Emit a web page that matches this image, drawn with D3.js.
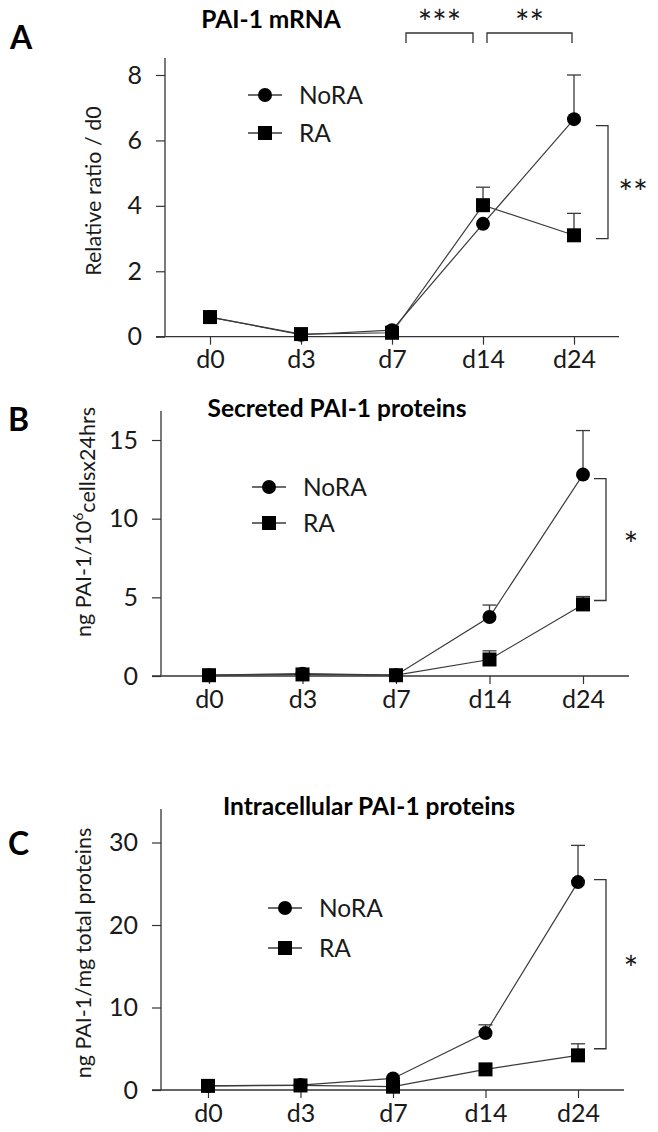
<!DOCTYPE html>
<html>
<head>
<meta charset="utf-8">
<script src="https://cdn.jsdelivr.net/npm/d3@7"></script>
<style>
  html, body { margin: 0; padding: 0; background: #fff; }
  svg { display: block; }
  text { font-family: Lato, "Open Sans", sans-serif; fill: #1a1a1a; }
</style>
</head>
<body>
<svg id="chart" width="658" height="1132"></svg>
<script>
// ---------------- data ----------------
const categories = ["d0", "d3", "d7", "d14", "d24"];
const seriesNames = ["NoRA", "RA"];

// Panel A: PAI-1 mRNA (relative ratio / d0)
const aNoRA    = [0.6, 0.06, 0.2, 3.45, 6.65];
const aNoRAErr = [0, 0, 0, 0, 1.35];
const aRA      = [0.6, 0.08, 0.12, 4.02, 3.1];
const aRAErr   = [0, 0, 0, 0.55, 0.67];
const aTicks   = [0, 2, 4, 6, 8];

// Panel B: secreted PAI-1 proteins
const bNoRA    = [0.05, 0.15, 0.05, 3.75, 12.8];
const bNoRAErr = [0, 0, 0, 0.76, 2.8];
const bRA      = [0.05, 0.1, 0.05, 1.05, 4.55];
const bRAErr   = [0, 0, 0, 0.55, 0.5];
const bTicks   = [0, 5, 10, 15];

// Panel C: intracellular PAI-1 proteins
const cNoRA    = [0.5, 0.6, 1.4, 6.9, 25.2];
const cNoRAErr = [0, 0, 0, 1.0, 4.45];
const cRA      = [0.5, 0.55, 0.4, 2.5, 4.2];
const cRAErr   = [0, 0, 0, 0, 1.4];
const cTicks   = [0, 10, 20, 30];

const panelLetters = ["A", "B", "C"];
const titles = ["PAI-1 mRNA", "Secreted PAI-1 proteins", "Intracellular PAI-1 proteins"];
const sigRight = ["**", "*", "*"];
const sigTop = ["***", "**"];           // d7–d14, d14–d24 in panel A
const bracketVals = [[6.45, 3.0], [12.55, 4.8], [25.5, 5.0]];

// ---------------- layout ----------------
const layouts = [
  { xAxis: [165, 619], xCat: [210, 574], yBase: 336.7, yTop: 75,    axisTop: 58,  tickMax: 8,
    letter: [10, 49], title: [271, 28], ylab: [93, 191],
    leg: [265, 95, 133], bracketX: 608, starDy: 23 },
  { xAxis: [161, 629], xCat: [209, 583], yBase: 676,   yTop: 440,   axisTop: 411, tickMax: 15,
    letter: [8, 431], title: [337, 417], ylab: [83, 522],
    leg: [269, 487, 523], bracketX: 606, starDy: 17 },
  { xAxis: [161, 624], xCat: [208, 578], yBase: 1090,  yTop: 842.5, axisTop: 809, tickMax: 30,
    letter: [8, 855], title: [369, 815], ylab: [83, 953],
    leg: [285, 908, 948], bracketX: 606, starDy: 17 }
];

const panels = [
  { ticks: aTicks, series: [[aNoRA, aNoRAErr], [aRA, aRAErr]] },
  { ticks: bTicks, series: [[bNoRA, bNoRAErr], [bRA, bRAErr]] },
  { ticks: cTicks, series: [[cNoRA, cNoRAErr], [cRA, cRAErr]] }
];

const svg = d3.select("#chart");
const lineCol = "#3a3a3a";
const axisCol = "#333";

function marker(g, type, cx, cy) {
  if (type === 0) {
    g.append("circle").attr("cx", cx).attr("cy", cy).attr("r", 7).attr("fill", "#000");
  } else {
    g.append("rect").attr("x", cx - 7).attr("y", cy - 7).attr("width", 14).attr("height", 14).attr("fill", "#000");
  }
}

panels.forEach((p, i) => {
  const L = layouts[i];
  const g = svg.append("g");
  const x = d3.scalePoint().domain(categories).range(L.xCat);
  const y = d3.scaleLinear().domain([0, L.tickMax]).range([L.yBase, L.yTop]);

  // y axis
  const yAx = g.append("g").attr("transform", `translate(${L.xAxis[0]},0)`)
    .call(d3.axisLeft(y).tickValues(p.ticks).tickSize(9).tickPadding(14).tickSizeOuter(0));
  yAx.select(".domain").remove();
  yAx.selectAll(".tick line").attr("stroke", axisCol).attr("stroke-width", 1.2);
  yAx.selectAll(".tick text").attr("font-size", 25).attr("font-family", "Lato");
  g.append("line").attr("x1", L.xAxis[0]).attr("x2", L.xAxis[0])
    .attr("y1", L.yBase).attr("y2", L.axisTop).attr("stroke", axisCol).attr("stroke-width", 1.3);

  // x axis
  const xAx = g.append("g").attr("transform", `translate(0,${L.yBase})`)
    .call(d3.axisBottom(x).tickSize(8).tickPadding(6).tickSizeOuter(0));
  xAx.select(".domain").remove();
  xAx.selectAll(".tick line").attr("stroke", axisCol).attr("stroke-width", 1.2);
  xAx.selectAll(".tick text").attr("font-size", 25).attr("font-family", "Lato");
  g.append("line").attr("x1", L.xAxis[0] - 9).attr("x2", L.xAxis[1])
    .attr("y1", L.yBase).attr("y2", L.yBase).attr("stroke", axisCol).attr("stroke-width", 1.3);

  // lines
  const lineGen = d3.line().x((d, k) => x(categories[k])).y(d => y(d));
  p.series.forEach(([vals]) => {
    g.append("path").attr("d", lineGen(vals)).attr("fill", "none")
      .attr("stroke", lineCol).attr("stroke-width", 1.2);
  });
  // error bars (upper only)
  p.series.forEach(([vals, errs]) => {
    vals.forEach((v, k) => {
      if (!errs[k]) return;
      const cx = x(categories[k]);
      g.append("line").attr("x1", cx).attr("x2", cx).attr("y1", y(v)).attr("y2", y(v + errs[k]))
        .attr("stroke", lineCol).attr("stroke-width", 1.3);
      g.append("line").attr("x1", cx - 7).attr("x2", cx + 7).attr("y1", y(v + errs[k])).attr("y2", y(v + errs[k]))
        .attr("stroke", lineCol).attr("stroke-width", 1.3);
    });
  });
  // markers
  p.series.forEach(([vals], s) => {
    vals.forEach((v, k) => marker(g, s, x(categories[k]), y(v)));
  });

  // legend
  seriesNames.forEach((name, s) => {
    const ly = L.leg[1 + s];
    g.append("line").attr("x1", L.leg[0] - 17).attr("x2", L.leg[0] + 17).attr("y1", ly).attr("y2", ly)
      .attr("stroke", lineCol).attr("stroke-width", 1.3);
    marker(g, s, L.leg[0], ly);
    g.append("text").attr("x", L.leg[0] + 34).attr("y", ly).attr("dy", "0.36em")
      .attr("font-size", 24.5).text(name);
  });

  // panel letter & title
  g.append("text").attr("x", L.letter[0]).attr("y", L.letter[1]).attr("font-size", 32)
    .attr("font-weight", "bold").style("fill", "#000").text(panelLetters[i]);
  g.append("text").attr("x", L.title[0]).attr("y", L.title[1]).attr("text-anchor", "middle")
    .attr("font-size", 24.5).attr("font-weight", "bold").style("fill", "#000").text(titles[i]);

  // y label
  const yl = g.append("text").attr("transform", `translate(${L.ylab[0]},${L.ylab[1]}) rotate(-90)`)
    .attr("text-anchor", "middle").attr("dy", "0.35em").attr("font-size", 21.5);
  if (i === 0) yl.text("Relative ratio / d0");
  else if (i === 1) {
    yl.append("tspan").text("ng PAI-1/10");
    yl.append("tspan").attr("font-size", 14).attr("dy", "-0.55em").text("6");
    yl.append("tspan").attr("dy", "0.55em").text("cellsx24hrs");
  } else yl.text("ng PAI-1/mg total proteins");

  // right significance bracket
  const bx = L.bracketX;
  const [bv1, bv2] = bracketVals[i];
  g.append("path")
    .attr("d", `M${bx - 12},${y(bv1)}H${bx}V${y(bv2)}H${bx - 12}`)
    .attr("fill", "none").attr("stroke", axisCol).attr("stroke-width", 1.3);
  g.append("text").attr("x", bx + 25).attr("y", (y(bv1) + y(bv2)) / 2 + L.starDy)
    .attr("text-anchor", "middle").attr("font-size", 35).text(sigRight[i]);

  // top brackets (panel A only)
  if (i === 0) {
    const pairs = [["d7", "d14"], ["d14", "d24"]];
    const offs = [[-3, -10], [4, -2]];
    pairs.forEach((pr, j) => {
      const xa = x(pr[0]) + offs[j][0] + 17 * (j === 0), xb = x(pr[1]) + offs[j][1];
      g.append("path").attr("d", `M${xa},43V33H${xb}V43`)
        .attr("fill", "none").attr("stroke", axisCol).attr("stroke-width", 1.3);
      g.append("text").attr("x", (xa + xb) / 2).attr("y", 35).attr("text-anchor", "middle")
        .attr("font-size", 34).text(sigTop[j]);
    });
  }
});
</script>
</body>
</html>
